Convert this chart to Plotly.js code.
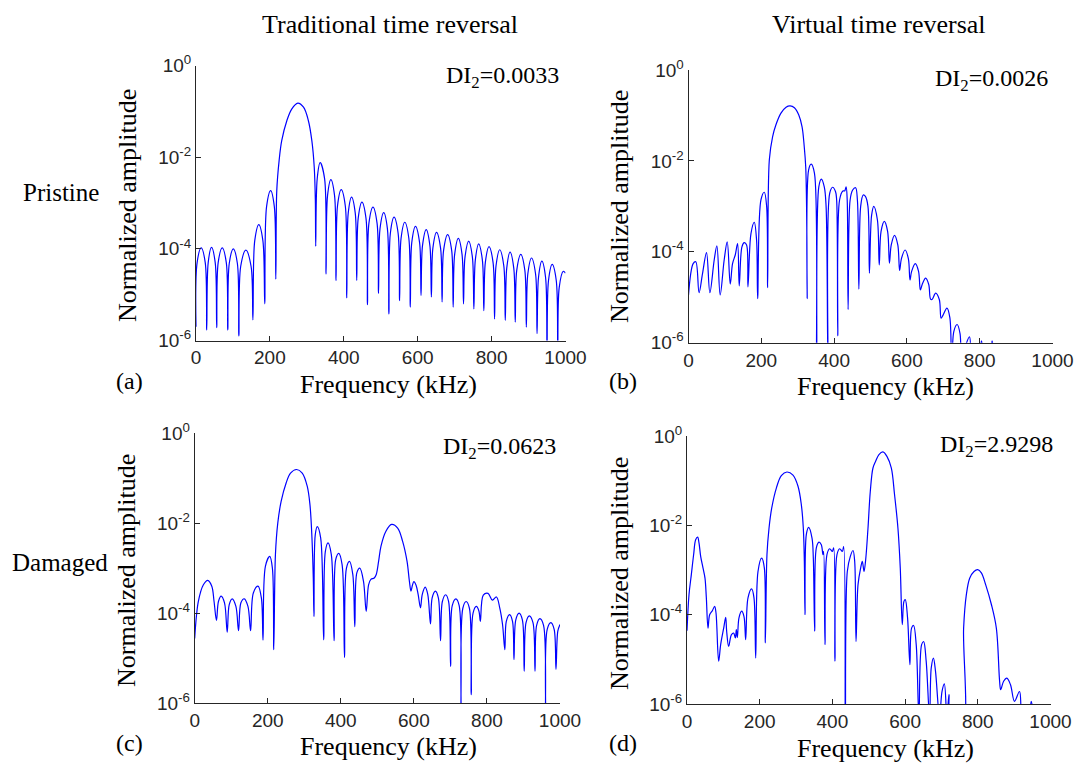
<!DOCTYPE html>
<html>
<head>
<meta charset="utf-8">
<script src="https://cdn.plot.ly/plotly-3.0.1.min.js"></script>
<style>html,body{margin:0;padding:0;background:#fff;}#chart{width:1077px;height:765px;}</style>
</head>
<body>
<div id="chart"></div>
<script>
// ---- Data (frequency in kHz, log10 of normalized amplitude) ----
const freqA = [0,3,14,25, 29,33,42,52, 56,60,71,82, 86,90,101,112, 116,121,135,149, 154,159,170,181, 186,191,202,212,
  216,218.6,225,232,246,259,275.5,291,304,313.5,320,323,
  324,328,336,348, 352,356,365,375, 379,383,393,404, 408,412,421,431, 435,439,449,460, 464,468,479,490,
  494,498,508,518, 522,526,536,547, 551,555,565,576, 580,584,594,605, 609,613,623,633, 637,641,651,662,
  666,670,681,692, 696,700,710,720, 724,728,738,748, 752,756,765,775, 779,783,793,804, 808,812,822,833,
  837,841,850,860, 864,868,879,890, 894,898,908,919, 923,927,936,946, 950,954,964,975, 979,983,994,1000];
const logA = [-5.7,-4.3,-3.98,-4.3, -5.77,-4.3,-3.97,-4.3, -5.72,-4.3,-3.98,-4.3, -5.77,-4.32,-4.0,-4.32, -5.9,-4.38,-4.03,-4.38,
  -5.55,-3.82,-3.47,-3.82, -5.2,-3.08,-2.73,-3.08,
  -4.66,-2.73,-2.07,-1.64,-1.2,-0.95,-0.82,-0.91,-1.2,-1.64,-2.22,-2.95,
  -3.94,-2.47,-2.12,-2.47, -4.55,-2.84,-2.49,-2.84, -4.69,-3.06,-2.71,-3.06, -5.07,-3.22,-2.87,-3.22, -4.69,-3.33,-2.98,-3.33,
  -5.22,-3.44,-3.09,-3.44, -4.97,-3.56,-3.21,-3.56, -5.42,-3.66,-3.31,-3.66, -5.13,-3.77,-3.42,-3.77, -5.27,-3.86,-3.51,-3.86,
  -5.02,-3.93,-3.58,-3.93, -5.05,-3.99,-3.64,-3.99, -5.16,-4.04,-3.69,-4.04, -5.27,-4.12,-3.77,-4.12, -5.2,-4.18,-3.83,-4.18,
  -5.31,-4.24,-3.89,-4.24, -5.35,-4.3,-3.95,-4.3, -5.53,-4.37,-4.02,-4.37, -5.56,-4.42,-4.07,-4.42, -5.6,-4.47,-4.12,-4.47,
  -5.71,-4.55,-4.2,-4.55, -5.85,-4.62,-4.27,-4.62, -6.2,-4.69,-4.34,-4.69, -6.2,-4.84,-4.49,-4.53];

const freqB = [0,12.8,20,29, 38.5,49.5,58.7, 70.6,78,87, 98,106.4,114.7, 121,128.4,134.9,139.4, 146.8,153.2,159.6,163.3,
  171.6,180.7,187,190, 199,208.3,214.7,217.4,
  222,231,240,254,268,279,291,303,312,318,322,325,326,
  330,337,346,352, 358,365,373,378,383, 388,396,404,407,410, 415,424,429,433,436,438.5, 444,451,459,464,468,
  473,480,486,493,497, 503,509,519,524, 529,538,547,552, 557,566,575,580, 585,595,604,608.5, 613,623,632,637,
  642,651.5,660,665, 669,679,689,694, 699,710,718,723, 729,738,746,750, 760,772,780, 798,805,812, 828,834,840, 860];
const logB = [-4.95,-4.26,-4.22,-4.9, -4.48,-4.02,-4.9, -4.18,-3.87,-4.95, -4.18,-3.78,-4.71, -4.26,-4.07,-3.82,-4.75,
  -3.89,-3.8,-3.85,-4.77, -3.6,-3.35,-3.74,-5.03, -2.86,-2.69,-3.0,-4.79,
  -1.98,-1.47,-1.21,-0.95,-0.82,-0.79,-0.83,-0.99,-1.25,-1.69,-2.13,-3.45,-5.03,
  -2.2,-2.07,-2.27,-6.4, -2.57,-2.4,-2.57,-3.0,-6.4, -2.71,-2.58,-2.68,-2.86,-5.85, -2.86,-2.66,-2.66,-2.57,-2.86,-5.27,
  -2.86,-2.64,-2.59,-2.86,-4.82, -3.0,-2.75,-2.78,-3.0,-4.47, -3.2,-3.0,-3.3,-4.29, -3.55,-3.33,-3.55,-4.25,
  -3.85,-3.64,-3.85,-4.41, -4.15,-3.96,-4.15,-4.62, -4.43,-4.26,-4.43,-4.84, -4.72,-4.58,-4.72,-5.04,
  -5.05,-4.91,-5.05,-5.46, -5.4,-5.24,-5.45,-6.5, -5.75,-5.6,-5.8,-6.5, -6.1,-5.87,-6.5, -6.3,-5.96,-6.3, -6.3,-5.96,-6.3, -7];

const freqC = [0,10,23.8,35.8,46.8,53,59.6, 65,72.4,81.6,89, 94.5,102.7,112.8,120, 126.5,135.7,145.8,153,
  160.5,173.3,182.5,187, 193.5,205.4,212.7,216.4,
  221,227.4,236.6,250.3,262.3,278.8,294.4,308,315.5,321,324.6,326.5,
  330,335.6,344.8,353, 357.6,365,374,381.5, 386,394.3,403.5,410, 415.4,423.7,432.8,438.3, 444,452,462,469.5,
  476,482.3,491.5,497,503.4,510,523.5,539,555.6,569,581.3,587.7,592,
  596,600,606,612,618, 623,631,638,645.5, 650,659,667,673, 678,687,695,700.5, 705,715,724,729,
  734,743,752,757, 762,771,778,782, 790,803,815,826,835,842.7,849,
  853,862,870,874, 879,888,897,902, 907,916,926,931.6, 936,945,955,960.5, 965,975,984,989, 994,1000];
const logC = [-4.56,-3.74,-3.37,-3.27,-3.4,-3.74,-4.16, -3.74,-3.62,-3.77,-4.42, -3.81,-3.68,-3.85,-4.39, -3.77,-3.68,-3.85,-4.39,
  -3.55,-3.4,-3.66,-4.6, -2.96,-2.74,-3.0,-4.81,
  -2.7,-2.0,-1.52,-1.11,-0.89,-0.81,-0.89,-1.18,-1.59,-2.33,-3.22,-4.07,
  -2.26,-2.08,-2.33,-4.59, -2.63,-2.44,-2.7,-4.61, -2.81,-2.67,-2.92,-4.98, -3.0,-2.85,-3.14,-4.3, -3.1,-3.0,-3.29,-3.96,
  -3.37,-3.25,-3.22,-3.14,-2.85,-2.51,-2.18,-2.03,-2.11,-2.4,-2.85,-3.29,-3.51,
  -3.38,-3.3,-3.38,-3.6,-3.88, -3.58,-3.42,-3.58,-4.24, -3.66,-3.51,-3.66,-4.61, -3.74,-3.59,-3.74,-5.18, -3.83,-3.68,-3.83,-6.3,
  -3.89,-3.74,-3.89,-5.81, -4.0,-3.85,-3.95,-4.18, -3.6,-3.56,-3.71,-3.64,-3.88,-4.25,-4.81,
  -4.18,-4.03,-4.18,-5.03, -4.15,-4.0,-4.15,-5.29, -4.21,-4.06,-4.21,-5.29, -4.27,-4.12,-4.27,-6.3, -4.36,-4.21,-4.36,-5.25, -4.4,-4.25];

const freqD = [0,5.5,11.9,18.3,23.8,29.3,33,37.6,44,49.5,53.2,57.8, 62.3,69.7,76.1,79.8,87.1, 92.6,100.9,106.4,109.1,114.6,
  122,128.4,133,135.7,138.5, 143,150.4,156.8,161.4, 167.8,177.9,184.3,189, 195.3,205.4,212.7,215.5,
  220,225.6,233,245.8,259.5,275,291.6,305.4,314.5,320,322.8,324.6,
  328.3,334.7,343.9,347.5,351.2, 355.8,363.1,369.5,374,375.9,379.6, 385,392.5,399.8,403.5,407, 412.6,420,427.3,431,435.6,
  441,449.3,456.7,461.3,465,
  470.4,477.8,482.3,487,491.5,497.9,504.3,511.6,518.9,528,539,550,562,571,580.3,586.7,592.2,
  596.8,600.4,606.8,613.2, 617.8,623.3,630.6,638, 645.4,651,658,667.3, 671.9,678,683.7,694.8, 701.5,708,715, 720.7,725,
  757.5,761,768.5,777.7,789.6,799.7,809.8,821.8,837.4,851,860,863, 871,880,890,901, 914.8,924, 940,947,954];
const logD = [-4.36,-3.55,-3.1,-2.65,-2.32,-2.26,-2.39,-2.69,-2.95,-3.18,-3.62,-4.3, -4.0,-3.91,-3.81,-3.96,-5.04, -4.67,-4.3,-4.06,-4.37,-4.71,
  -4.45,-4.41,-4.52,-4.33,-4.51, -4.07,-3.92,-4.04,-4.56, -3.62,-3.42,-3.62,-4.97, -3.03,-2.73,-2.95,-4.63,
  -2.65,-2.06,-1.61,-1.16,-0.88,-0.8,-0.87,-1.12,-1.53,-2.06,-2.8,-4.0,
  -2.2,-2.04,-2.28,-2.73,-4.37, -2.5,-2.37,-2.43,-2.65,-2.58,-4.67, -2.65,-2.52,-2.58,-2.5,-5.04, -2.65,-2.52,-2.58,-2.47,-6.5,
  -3.03,-2.69,-2.56,-2.8,-4.6,
  -3.33,-2.95,-2.8,-3.03,-2.77,-2.06,-1.23,-0.71,-0.56,-0.41,-0.35,-0.45,-0.71,-1.31,-2.06,-2.95,-4.22,
  -3.7,-3.66,-4.07,-5.12, -4.3,-4.24,-4.67,-6.3, -4.67,-4.6,-5.04,-6.3, -5.19,-4.97,-5.27,-6.3, -5.72,-5.55,-6.3, -5.79,-6.3,
  -6.5,-4.3,-3.55,-3.18,-3.03,-2.99,-3.06,-3.33,-3.77,-4.3,-5.49,-5.68, -5.49,-5.42,-5.57,-5.94, -5.72,-6.3, -6.3,-5.94,-6.3];

const xTickVals = [0,200,400,600,800,1000];
const yTickVals = [1e-6,1e-4,1e-2,1];
const yTickText = ['10<sup>-6</sup>','10<sup>-4</sup>','10<sup>-2</sup>','10<sup>0</sup>'];
const columnTitles = ['Traditional time reversal','Virtual time reversal'];
const rowLabels = ['Pristine','Damaged'];
const panelLabels = ['(a)','(b)','(c)','(d)'];
const diLabels = ['DI<sub>2</sub>=0.0033','DI<sub>2</sub>=0.0026','DI<sub>2</sub>=0.0623','DI<sub>2</sub>=2.9298'];
const xTitle = 'Frequency (kHz)';
const yTitle = 'Normalized amplitude';

// ---- Layout helpers ----
const W = 1077, H = 765;
const px = v => v / W;
const py = v => 1 - v / H;
const toAmp = v => Math.pow(10, v);

const serif = 'Liberation Serif, Times New Roman, serif';
const sans = 'Liberation Sans, Arial, sans-serif';
const ink = '#262626';

const series = [[freqA, logA], [freqB, logB], [freqC, logC], [freqD, logD]];
const axIds = ['', '2', '3', '4'];
const traces = series.map((s, i) => ({
  x: s[0], y: s[1].map(toAmp), type: 'scatter', mode: 'lines',
  xaxis: 'x' + axIds[i], yaxis: 'y' + axIds[i],
  line: {color: '#0000ff', width: 1.2, shape: 'spline', smoothing: 1},
  hoverinfo: 'skip'
}));

// panel boxes in pixels: [left, right, top, bottom]
const boxes = [[196, 565.5, 65.5, 340.5], [688.5, 1052.5, 70, 342.7], [194.7, 560, 433, 703.3], [687, 1050.5, 436.3, 704]];

const layout = {
  width: W, height: H, margin: {l: 0, r: 0, t: 0, b: 0},
  paper_bgcolor: '#ffffff', plot_bgcolor: 'rgba(0,0,0,0)', showlegend: false,
  annotations: []
};

boxes.forEach((b, i) => {
  const k = axIds[i];
  layout['xaxis' + k] = {
    domain: [px(b[0]), px(b[1])], anchor: 'y' + k, range: [0, 1000],
    tickmode: 'array', tickvals: xTickVals, ticks: 'inside', ticklen: 5, tickwidth: 1, tickcolor: ink,
    showline: true, linecolor: ink, linewidth: 1, showgrid: false, zeroline: false, mirror: false,
    tickfont: {family: sans, size: 19, color: ink}, fixedrange: true
  };
  layout['yaxis' + k] = {
    domain: [py(b[3]), py(b[2])], anchor: 'x' + k, type: 'log', range: [-6, 0],
    tickmode: 'array', tickvals: yTickVals, ticktext: yTickText, ticks: 'inside', ticklen: 5, tickwidth: 1, tickcolor: ink,
    showline: true, linecolor: ink, linewidth: 1, showgrid: false, zeroline: false, mirror: false,
    tickfont: {family: sans, size: 19, color: ink}, fixedrange: true
  };
});

function ann(text, x, y, size, opts) {
  return Object.assign({text: text, x: px(x), y: py(y), xref: 'paper', yref: 'paper', showarrow: false,
    xanchor: 'center', yanchor: 'middle', font: {family: serif, size: size, color: '#000'}}, opts || {});
}

const A = layout.annotations;
A.push(ann(columnTitles[0], 390, 24, 26));
A.push(ann(columnTitles[1], 879, 24, 26));
A.push(ann(rowLabels[0], 61, 192, 25));
A.push(ann(rowLabels[1], 60, 562, 25));
// y titles
[[128, 206], [620, 207], [126, 571], [619, 574]].forEach(p => A.push(ann(yTitle, p[0], p[1], 26, {textangle: -90})));
// x titles
[[388, 384], [885, 386], [388, 746.5], [885, 748]].forEach(p => A.push(ann(xTitle, p[0], p[1], 26)));
// panel labels
[[129, 381], [623, 381], [129, 743], [623, 743]].forEach((p, i) => A.push(ann(panelLabels[i], p[0], p[1], 24)));
// DI labels (right aligned)
[[561, 77], [1050, 80], [558, 448], [1055, 446]].forEach((p, i) => A.push(ann(diLabels[i], p[0], p[1], 24, {xanchor: 'right'})));

Plotly.newPlot('chart', traces, layout, {staticPlot: true, displayModeBar: false});
</script>
</body>
</html>
